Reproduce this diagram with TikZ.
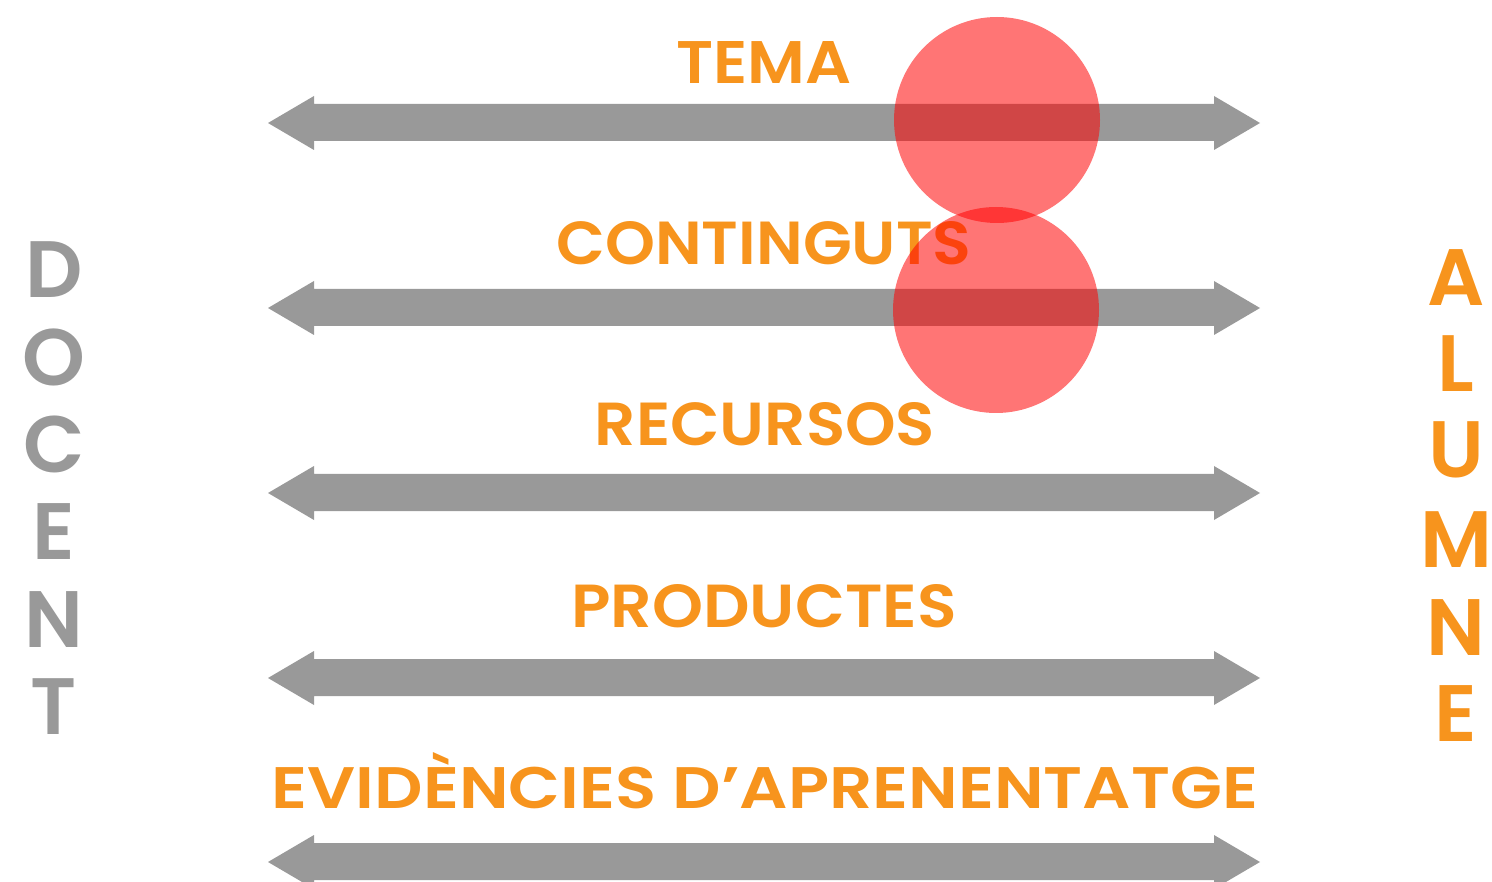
\documentclass[tikz,border=0pt]{standalone}
\usepackage{fontspec}
\setmainfont{Poppins}
\newfontfamily\semib{Poppins SemiBold}
\definecolor{og}{HTML}{F7941D}
\definecolor{gy}{HTML}{999999}
\begin{document}
\begin{tikzpicture}[x=1pt,y=-1pt,
  lbl/.style={anchor=base,inner sep=0pt,text=og,font=\semib},
  vlet/.style={anchor=base,inner sep=0pt,font=\semib\fontsize{80}{80}\selectfont},
  spot/.style={fill=red,fill opacity=0.54}]
\useasboundingbox (0,0) rectangle (1492,882);
\clip (0,0) rectangle (1492,882);
% arrows
\foreach \yy in {123,308,493,678,862}{
  \fill[gy] (268,\yy) -- (314,\yy-27) -- (314,\yy-19) -- (1214,\yy-19) -- (1214,\yy-27)
    -- (1260,\yy) -- (1214,\yy+27) -- (1214,\yy+18) -- (314,\yy+18) -- (314,\yy+27) -- cycle;
}
% labels
\node[lbl] (tema) at (764,84) {\resizebox{175pt}{42pt}{TEMA}};
\node[lbl] (cont) at (764,265) {\resizebox{415pt}{43pt}{CONTINGUTS}};
\node[lbl] (recu) at (765,446) {\resizebox{340pt}{43pt}{RECURSOS}};
\node[lbl] (prod) at (764,627) {\resizebox{385pt}{43pt}{PRODUCTES}};
\node[lbl] (evid) at (765,808) {\resizebox{986pt}{56pt}{EVIDÈNCIES D’APRENENTATGE}};
% side words
\foreach \l/\yy [count=\i] in {D/298,O/386,C/472,E/559,N/647,T/734}
  \node[vlet,text=gy] (doc\i) at (54,\yy) {\l};
\foreach \l/\yy [count=\i] in {A/306,L/392,U/478,M/567,N/655,E/741}
  \node[vlet,text=og] (alu\i) at (1456,\yy) {\l};
% circles
\fill[spot] (997,120) circle (103);
\fill[spot] (996,310) circle (103);
\end{tikzpicture}
\end{document}
